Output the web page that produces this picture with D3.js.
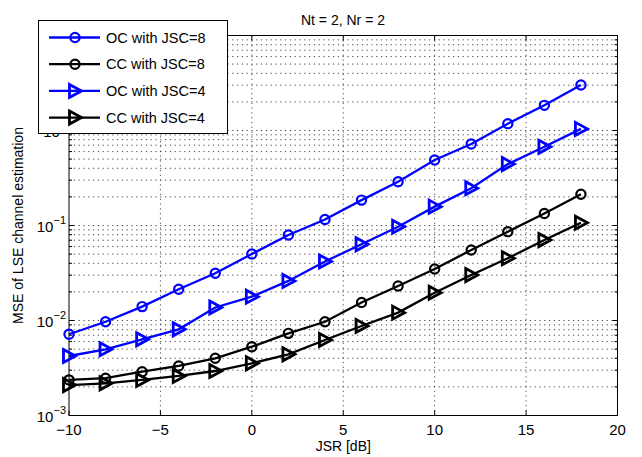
<!DOCTYPE html>
<html><head><meta charset="utf-8">
<script src="https://cdn.jsdelivr.net/npm/d3@7"></script>
<style>body{margin:0;background:#fff}svg{display:block}text{font-family:"Liberation Sans",Arial,sans-serif}</style>
</head><body>
<svg id="c" width="642" height="457"></svg>
<script>
const jsr = [-10,-8,-6,-4,-2,0,2,4,6,8,10,12,14,16,18];
const ocJsc8 = [0.00716,0.0097,0.0140,0.0213,0.0314,0.0501,0.0794,0.1155,0.185,0.289,0.489,0.721,1.18,1.84,3.01];
const ccJsc8 = [0.00237,0.00247,0.00289,0.00332,0.0040,0.0053,0.00732,0.0097,0.0155,0.0231,0.0348,0.0552,0.0861,0.134,0.213];
const ocJsc4 = [0.00423,0.00498,0.00634,0.00807,0.0137,0.0178,0.0261,0.0418,0.0634,0.097,0.158,0.247,0.443,0.674,1.04];
const ccJsc4 = [0.00209,0.00218,0.00237,0.00261,0.00294,0.00354,0.00441,0.00624,0.00875,0.0121,0.0196,0.0301,0.0452,0.0703,0.107];
const xTicks = [-10,-5,0,5,10,15,20];
const yDecades = [-3,-2,-1,0,1];
const seriesNames = ["OC with JSC=8","CC with JSC=8","OC with JSC=4","CC with JSC=4"];
const series = [
  {name: seriesNames[0], values: ocJsc8, color: "#0000ff", marker: "circle"},
  {name: seriesNames[1], values: ccJsc8, color: "#000000", marker: "circle"},
  {name: seriesNames[2], values: ocJsc4, color: "#0000ff", marker: "tri"},
  {name: seriesNames[3], values: ccJsc4, color: "#000000", marker: "tri"}
];

const svg = d3.select("#c");
const L = 69, R = 617.5, T = 35.5, B = 415.5;
const x = d3.scaleLinear().domain([-10,20]).range([L,R]);
const y = d3.scaleLog().domain([1e-3,1e1]).range([B,T]);

// grid
const g = svg.append("g");
const minorVals = [];
yDecades.slice(0,-1).forEach(d => { for (let k=1;k<10;k++) minorVals.push(k*Math.pow(10,d)); });
minorVals.push(10);
const gridStyle = s => s.attr("stroke","#333").attr("stroke-width",0.9).attr("stroke-dasharray","1.2,3.6").attr("fill","none");
g.selectAll(".hg").data(minorVals.filter(v => v>1e-3 && v<10)).enter().append("line")
  .attr("x1",L).attr("x2",R).attr("y1",d=>y(d)).attr("y2",d=>y(d)).call(gridStyle);
g.selectAll(".vg").data(xTicks.filter(v=>v>-10&&v<20)).enter().append("line")
  .attr("x1",d=>x(d)).attr("x2",d=>x(d)).attr("y1",T).attr("y2",B).call(gridStyle);

// ticks
const tk = svg.append("g").attr("stroke","#000").attr("stroke-width",1);
xTicks.forEach(v => {
  tk.append("line").attr("x1",x(v)).attr("x2",x(v)).attr("y1",B).attr("y2",B-5);
  tk.append("line").attr("x1",x(v)).attr("x2",x(v)).attr("y1",T).attr("y2",T+5);
});
minorVals.forEach(v => {
  const major = Math.abs(Math.log10(v) - Math.round(Math.log10(v))) < 1e-9;
  const len = major ? 5 : 3;
  tk.append("line").attr("x1",L).attr("x2",L+len).attr("y1",y(v)).attr("y2",y(v));
  tk.append("line").attr("x1",R).attr("x2",R-len).attr("y1",y(v)).attr("y2",y(v));
});
svg.append("rect").attr("x",L).attr("y",T).attr("width",R-L).attr("height",B-T)
  .attr("fill","none").attr("stroke","#000").attr("stroke-width",1);

// tick labels
svg.selectAll(".xl").data(xTicks).enter().append("text")
  .attr("x",d=>x(d)).attr("y",435).attr("text-anchor","middle").attr("font-size",15).text(d=>d<0?"\u2212"+(-d):d);
yDecades.forEach(d => {
  const t = svg.append("text").attr("x",L-3).attr("y",y(Math.pow(10,d))+6).attr("text-anchor","end").attr("font-size",15);
  t.append("tspan").text("10");
  t.append("tspan").attr("dy",-8).attr("font-size",11).text(d<0?"\u2212"+(-d):d);
});
svg.append("text").attr("x",(L+R)/2).attr("y",451).attr("text-anchor","middle").attr("font-size",14).text("JSR [dB]");
svg.append("text").attr("transform",`translate(23,${(T+B)/2}) rotate(-90)`).attr("text-anchor","middle").attr("font-size",14).text("MSE of LSE channel estimation");
svg.append("text").attr("x",343).attr("y",25).attr("text-anchor","middle").attr("font-size",14).text("Nt = 2, Nr = 2");

// series
const line = d3.line().x((d,i)=>x(jsr[i])).y(d=>y(d));
const triPath = "M-5.5,-6.5L6.5,0L-5.5,6.5Z";
function drawMarker(sel, s, cx, cy){
  if (s.marker === "circle") sel.append("circle").attr("cx",cx).attr("cy",cy).attr("r",4.6)
    .attr("fill","none").attr("stroke",s.color).attr("stroke-width",2.2);
  else sel.append("path").attr("d",triPath).attr("transform",`translate(${cx},${cy})`)
    .attr("fill","none").attr("stroke",s.color).attr("stroke-width",2.8).attr("stroke-linejoin","miter");
}
series.forEach(s => {
  const gs = svg.append("g");
  gs.append("path").attr("d",line(s.values)).attr("fill","none").attr("stroke",s.color).attr("stroke-width",2.3);
  s.values.forEach((v,i) => drawMarker(gs, s, x(jsr[i]), y(v)));
});

// legend
const lg = svg.append("g");
lg.append("rect").attr("x",38.5).attr("y",20.5).attr("width",189).attr("height",113).attr("fill","#fff").attr("stroke","#000").attr("stroke-width",1);
series.forEach((s,i) => {
  const ly = 37.5 + i*26.7;
  lg.append("line").attr("x1",49).attr("x2",100).attr("y1",ly).attr("y2",ly).attr("stroke",s.color).attr("stroke-width",2.3);
  drawMarker(lg, s, 75, ly);
  lg.append("text").attr("x",106).attr("y",ly+5).attr("font-size",14.5).attr("fill","#000").text(s.name);
});
</script>
</body></html>
